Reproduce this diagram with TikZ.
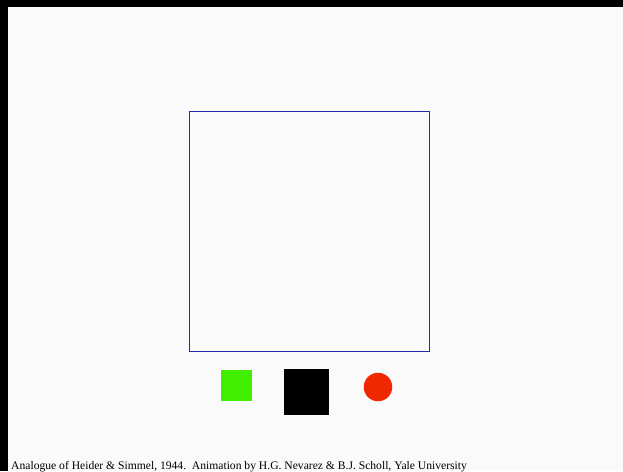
\documentclass[tikz,border=0pt]{standalone}
\usepackage{fontspec}
\setmainfont{Liberation Serif}
\usetikzlibrary{positioning}
\definecolor{bgpaper}{HTML}{FAFAFA}
\definecolor{framecol}{HTML}{2828A8}
\definecolor{greenblock}{HTML}{40EE00}
\definecolor{redball}{HTML}{F02800}

\begin{document}
\begin{tikzpicture}[
    x=1pt, y=-1pt,
    solid shape/.style={inner sep=0pt, outer sep=0pt, draw=none},
    sq/.style={solid shape, rectangle, minimum width=#1, minimum height=#1}
  ]
    % page and black edge
    \useasboundingbox (0,0) rectangle (623,471);
    \fill[black] (0,0) rectangle (623,471);
    \fill[bgpaper] (8,7) rectangle (623,471);

    \node[draw=framecol, line width=1pt, minimum width=240pt, minimum height=240pt,
      inner sep=0pt] (frame) at (309.5,231.5) {};

    \node[sq=31pt, fill=greenblock] (greensq) at (236.5,385.5) {};
    \node[sq=45.5pt, fill=black]    (blacksq) at (306.5,392) {};
    \node[solid shape, circle, minimum size=28.5pt, fill=redball] (redcirc) at (378,387) {};

    \node[anchor=base west, inner sep=0pt, font=\fontsize{11.6}{13}\selectfont] (caption) at (11,469.5)
      {Analogue of Heider \& Simmel, 1944.\ \ Animation by H.G. Nevarez \& B.J. Scholl, Yale University};
  \end{tikzpicture}
\end{document}
